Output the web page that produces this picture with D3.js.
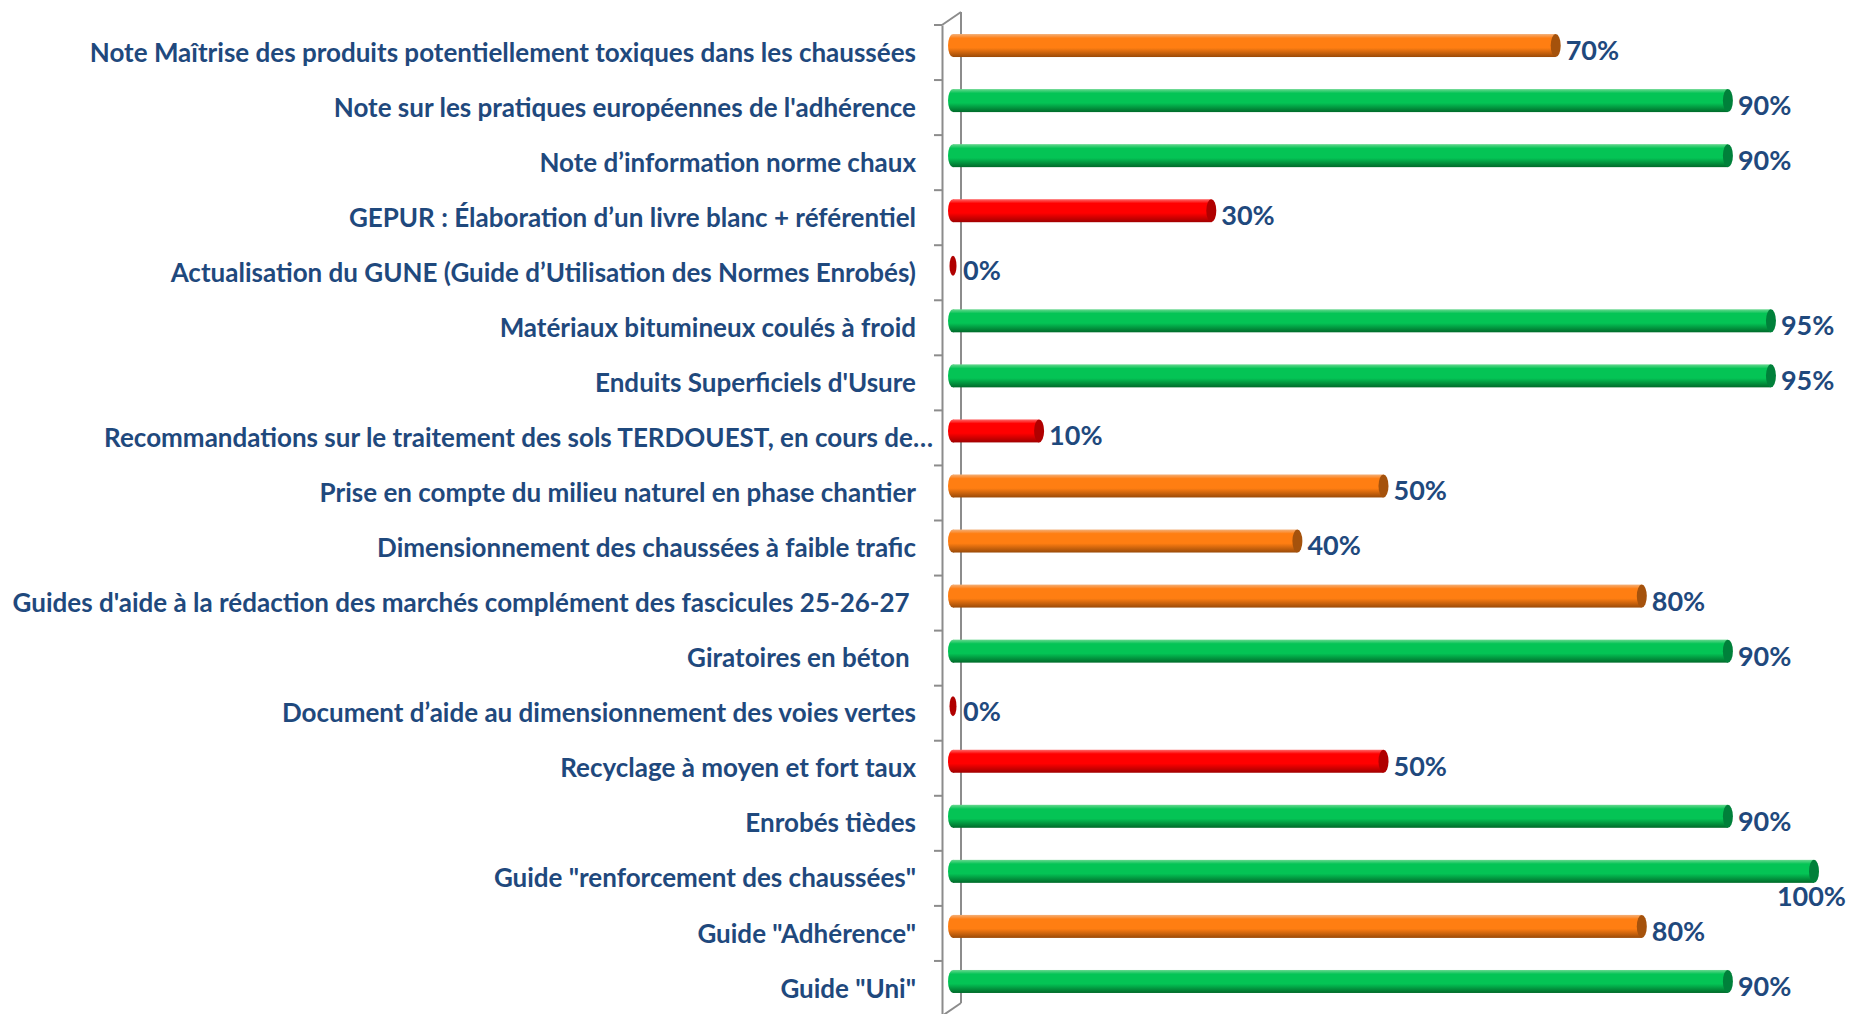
<!DOCTYPE html>
<html>
<head>
<meta charset="utf-8">
<script src="https://cdn.jsdelivr.net/npm/d3@7"></script>
<style>
  body { margin: 0; background: #ffffff; }
  text { font-family: Lato, "Open Sans", sans-serif; font-weight: bold; white-space: pre; }
</style>
</head>
<body>
<div id="chart"></div>
<script>
// categories, top to bottom
var categories = [
    "Note Maîtrise des produits potentiellement toxiques dans les chaussées",
    "Note sur les pratiques européennes de l'adhérence",
    "Note d’information norme chaux",
    "GEPUR : Élaboration d’un livre blanc + référentiel",
    "Actualisation du GUNE (Guide d’Utilisation des Normes Enrobés)",
    "Matériaux bitumineux coulés à froid",
    "Enduits Superficiels d'Usure",
    "Recommandations sur le traitement des sols TERDOUEST, en cours de…",
    "Prise en compte du milieu naturel en phase chantier",
    "Dimensionnement des chaussées à faible trafic",
    "Guides d'aide à la rédaction des marchés complément des fascicules 25-26-27 ",
    "Giratoires en béton ",
    "Document d’aide au dimensionnement des voies vertes",
    "Recyclage à moyen et fort taux",
    "Enrobés tièdes",
    "Guide \"renforcement des chaussées\"",
    "Guide \"Adhérence\"",
    "Guide \"Uni\""
];

var avancement = [70, 90, 90, 30, 0, 95, 95, 10, 50, 40, 80, 90, 0, 50, 90, 100, 80, 90];

var statut = ["orange", "vert", "vert", "rouge", "rouge", "vert", "vert", "rouge", "orange",
    "orange", "orange", "vert", "rouge", "rouge", "vert", "vert", "orange", "vert"];

var valueLabels = ["70%", "90%", "90%", "30%", "0%", "95%", "95%", "10%", "50%",
    "40%", "80%", "90%", "0%", "50%", "90%", "100%", "80%", "90%"];

const svgDimentions = {
    width: 1849,
    height: 1014
};

const margins = {
    top: 25,
    bottom: -2,
    right: 35,
    left: 953
};

var depth = { dx: 19, dy: -13 };

var couleurs = {
    orange: { light: "#F3B07A", main: "#FF7E12", dark: "#9A4A08", cap: "#A5520C" },
    vert:   { light: "#6AD890", main: "#04C455", dark: "#006A2A", cap: "#00803A" },
    rouge:  { light: "#FF6A6A", main: "#FF0000", dark: "#A00000", cap: "#B00000" }
};

var data = categories.map(function (c, i) {
    return { nom: c, valeur: avancement[i], statut: statut[i], label: valueLabels[i] };
});

var svg = d3.select("#chart").append("svg")
    .attr("width", svgDimentions.width)
    .attr("height", svgDimentions.height);

var defs = svg.append("defs");
Object.keys(couleurs).forEach(function (k) {
    var c = couleurs[k];
    var g = defs.append("linearGradient")
        .attr("id", "grad-" + k)
        .attr("x1", 0).attr("y1", 0).attr("x2", 0).attr("y2", 1);
    g.append("stop").attr("offset", "0%").attr("stop-color", c.light);
    g.append("stop").attr("offset", "18%").attr("stop-color", c.main);
    g.append("stop").attr("offset", "60%").attr("stop-color", c.main);
    g.append("stop").attr("offset", "100%").attr("stop-color", c.dark);
});

var scaleX = d3.scaleLinear()
    .domain([0, 100])
    .range([margins.left, 1814]);

var scaleY = d3.scaleBand()
    .domain(categories)
    .range([margins.top, svgDimentions.height - margins.bottom]);

var axisX0 = margins.left - 11;

// back wall line
svg.append("line")
    .attr("x1", axisX0 + depth.dx).attr("y1", scaleY.range()[0] + depth.dy)
    .attr("x2", axisX0 + depth.dx).attr("y2", scaleY.range()[1] + depth.dy)
    .attr("stroke", "#8C8C8C").attr("stroke-width", 2);

// depth diagonals
[scaleY.range()[0], scaleY.range()[1]].forEach(function (y) {
    svg.append("line")
        .attr("x1", axisX0).attr("y1", y)
        .attr("x2", axisX0 + depth.dx).attr("y2", y + depth.dy)
        .attr("stroke", "#8C8C8C").attr("stroke-width", 2);
});

var axisY = d3.axisLeft(scaleY)
    .tickSize(0)
    .tickPadding(26)
    .tickSizeOuter(0);

var gAxis = svg.append("g")
    .attr("class", "y axis")
    .attr("transform", "translate(" + axisX0 + ",0)")
    .call(axisY);

gAxis.select(".domain").attr("stroke", "#8C8C8C").attr("stroke-width", 2);
gAxis.selectAll("text")
    .attr("fill", "#1F497D")
    .style("font-size", "26px")
    .attr("dy", "0.35em")
    .attr("dx", d => d.indexOf("…") >= 0 ? 17 : 0);

// tick marks at band boundaries
var boundaries = categories.map(function (c) { return scaleY(c); }).concat([scaleY.range()[1]]);
gAxis.selectAll(".sep")
    .data(boundaries)
    .enter()
    .append("line")
    .attr("class", "sep")
    .attr("x1", -8).attr("x2", 0)
    .attr("y1", d => d).attr("y2", d => d)
    .attr("stroke", "#8C8C8C").attr("stroke-width", 2);

var barH = 23;
var capRx = 5;
function barY(d) { return scaleY(d.nom) + scaleY.bandwidth() / 2 - 7; }

var bars = svg.selectAll(".bar")
    .data(data)
    .enter()
    .append("g")
    .attr("class", "bar");

bars.filter(d => d.valeur > 0)
    .append("rect")
    .attr("x", scaleX(0))
    .attr("y", d => barY(d) - barH / 2)
    .attr("width", d => scaleX(d.valeur) - scaleX(0))
    .attr("height", barH)
    .attr("fill", d => "url(#grad-" + d.statut + ")");

bars.filter(d => d.valeur > 0)
    .append("ellipse")
    .attr("cx", scaleX(0))
    .attr("cy", d => barY(d))
    .attr("rx", capRx)
    .attr("ry", barH / 2)
    .attr("fill", d => "url(#grad-" + d.statut + ")");

bars.append("ellipse")
    .attr("cx", d => scaleX(d.valeur))
    .attr("cy", d => barY(d))
    .attr("rx", d => d.valeur > 0 ? capRx : 3.5)
    .attr("ry", d => d.valeur > 0 ? barH / 2 : 10)
    .attr("fill", d => couleurs[d.statut].cap);

// value labels
bars.append("text")
    .attr("fill", "#1F497D")
    .style("font-size", "27px")
    .attr("dy", "0.35em")
    .text(d => d.label)
    .each(function (d) {
        var t = d3.select(this);
        var w = this.getComputedTextLength();
        var x = scaleX(d.valeur) + 10;
        if (x + w > svgDimentions.width - 2) {
            t.attr("x", svgDimentions.width - 3)
                .attr("text-anchor", "end")
                .attr("y", barY(d) + 25);
        } else {
            t.attr("x", x)
                .attr("y", barY(d) + 5);
        }
    });
</script>
</body>
</html>
